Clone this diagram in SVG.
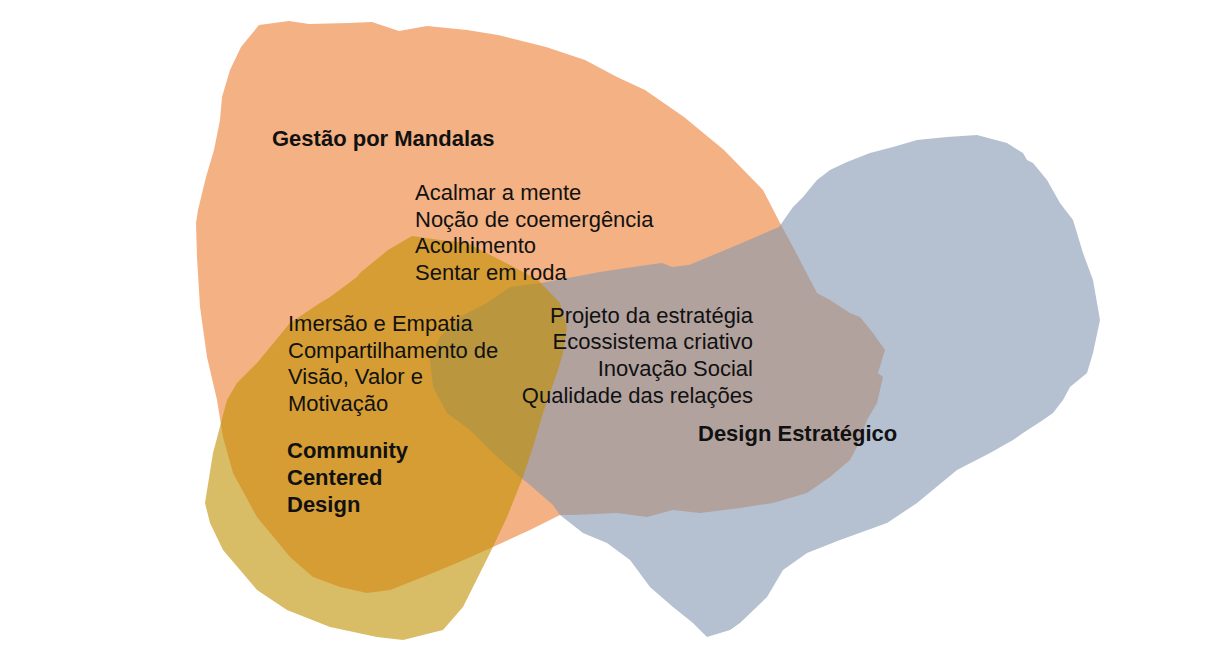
<svg xmlns="http://www.w3.org/2000/svg" width="1224" height="658" viewBox="0 0 1224 658">
  <style>
    .blob-orange { fill: #F4B183; }
    .blob-blue { fill: #8497B0; fill-opacity: 0.6; }
    .blob-yellow { fill: #BF9000; fill-opacity: 0.6; }
    text { font-family: "Liberation Sans", Arial, sans-serif; font-size: 22px; fill: #111111; }
    .title { font-weight: bold; }
    .end { text-anchor: end; }
  </style>
  <rect width="1224" height="658" fill="#FFFFFF"/>

  <g id="gestao-por-mandalas">
    <path class="blob-orange" d="M259,25 L289,21 L309,24 L348,23 L372,22 L399,31 L427,26 L467,30 L498,35 L546,47 L585,60 L617,77 L645,90 L684,117 L724,150 L763,190 L780,223 L793,247 L817,293 L830,300 L850,313 L860,317 L873,333 L885,350 L878,373 L883,377 L877,403 L867,420 L857,447 L850,460 L830,477 L807,493 L773,503 L740,508 L700,513 L673,510 L647,517 L617,513 L573,515 L560,515 L530,530 L493,547 L457,563 L423,577 L390,590 L367,593 L340,587 L313,577 L290,557 L257,517 L233,473 L223,437 L217,400 L207,357 L200,307 L197,257 L196,223 L198,210 L206,177 L214,150 L220,120 L222,97 L230,70 L241,47 Z"/>
    <text class="title" x="272" y="146">Gestão por Mandalas</text>
  </g>

  <g id="design-estrategico">
    <path class="blob-blue" d="M779,227 L793,207 L803,197 L817,180 L830,170 L847,162 L870,153 L893,147 L917,140 L947,137 L977,135 L1007,143 L1023,153 L1027,160 L1033,163 L1047,180 L1060,203 L1073,220 L1083,253 L1093,280 L1100,320 L1093,353 L1087,373 L1070,387 L1063,400 L1053,413 L1043,420 L1023,433 L1013,440 L990,453 L957,470 L917,503 L887,523 L840,540 L807,553 L783,570 L767,597 L740,623 L730,630 L707,637 L693,623 L673,607 L650,587 L630,560 L607,543 L583,533 L560,515 L553,505 L530,485 L520,477 L493,453 L470,430 L447,413 L433,387 L430,360 L440,337 L460,317 L487,303 L510,287 L541,283 L600,272 L640,266 L662,263 L672,267 L689,265 L730,248 Z"/>
    <text class="title" x="698" y="441">Design Estratégico</text>
  </g>

  <g id="community-centered-design">
    <path class="blob-yellow" d="M412,236 L440,240 L467,243 L506,263 L538,280 L560,303 L567,327 L563,353 L557,373 L550,393 L543,413 L533,447 L523,477 L507,517 L490,553 L480,573 L463,607 L443,630 L403,640 L377,637 L330,627 L287,610 L257,590 L223,550 L210,523 L205,503 L213,453 L227,400 L237,383 L257,363 L290,323 L320,303 L330,297 L357,277 L360,273 L388,250 Z"/>
    <text class="title" x="287" y="458">Community</text>
    <text class="title" x="287" y="485">Centered</text>
    <text class="title" x="287" y="512">Design</text>
  </g>

  <g id="mandalas-items">
    <text x="415" y="200">Acalmar a mente</text>
    <text x="415" y="227">Noção de coemergência</text>
    <text x="415" y="253">Acolhimento</text>
    <text x="415" y="280">Sentar em roda</text>
  </g>

  <g id="ccd-items">
    <text x="288" y="331">Imersão e Empatia</text>
    <text x="288" y="358">Compartilhamento de</text>
    <text x="288" y="384">Visão, Valor e</text>
    <text x="288" y="411">Motivação</text>
  </g>

  <g id="estrategico-items">
    <text class="end" x="753" y="323">Projeto da estratégia</text>
    <text class="end" x="753" y="349">Ecossistema criativo</text>
    <text class="end" x="753" y="376">Inovação Social</text>
    <text class="end" x="753" y="403">Qualidade das relações</text>
  </g>
</svg>
